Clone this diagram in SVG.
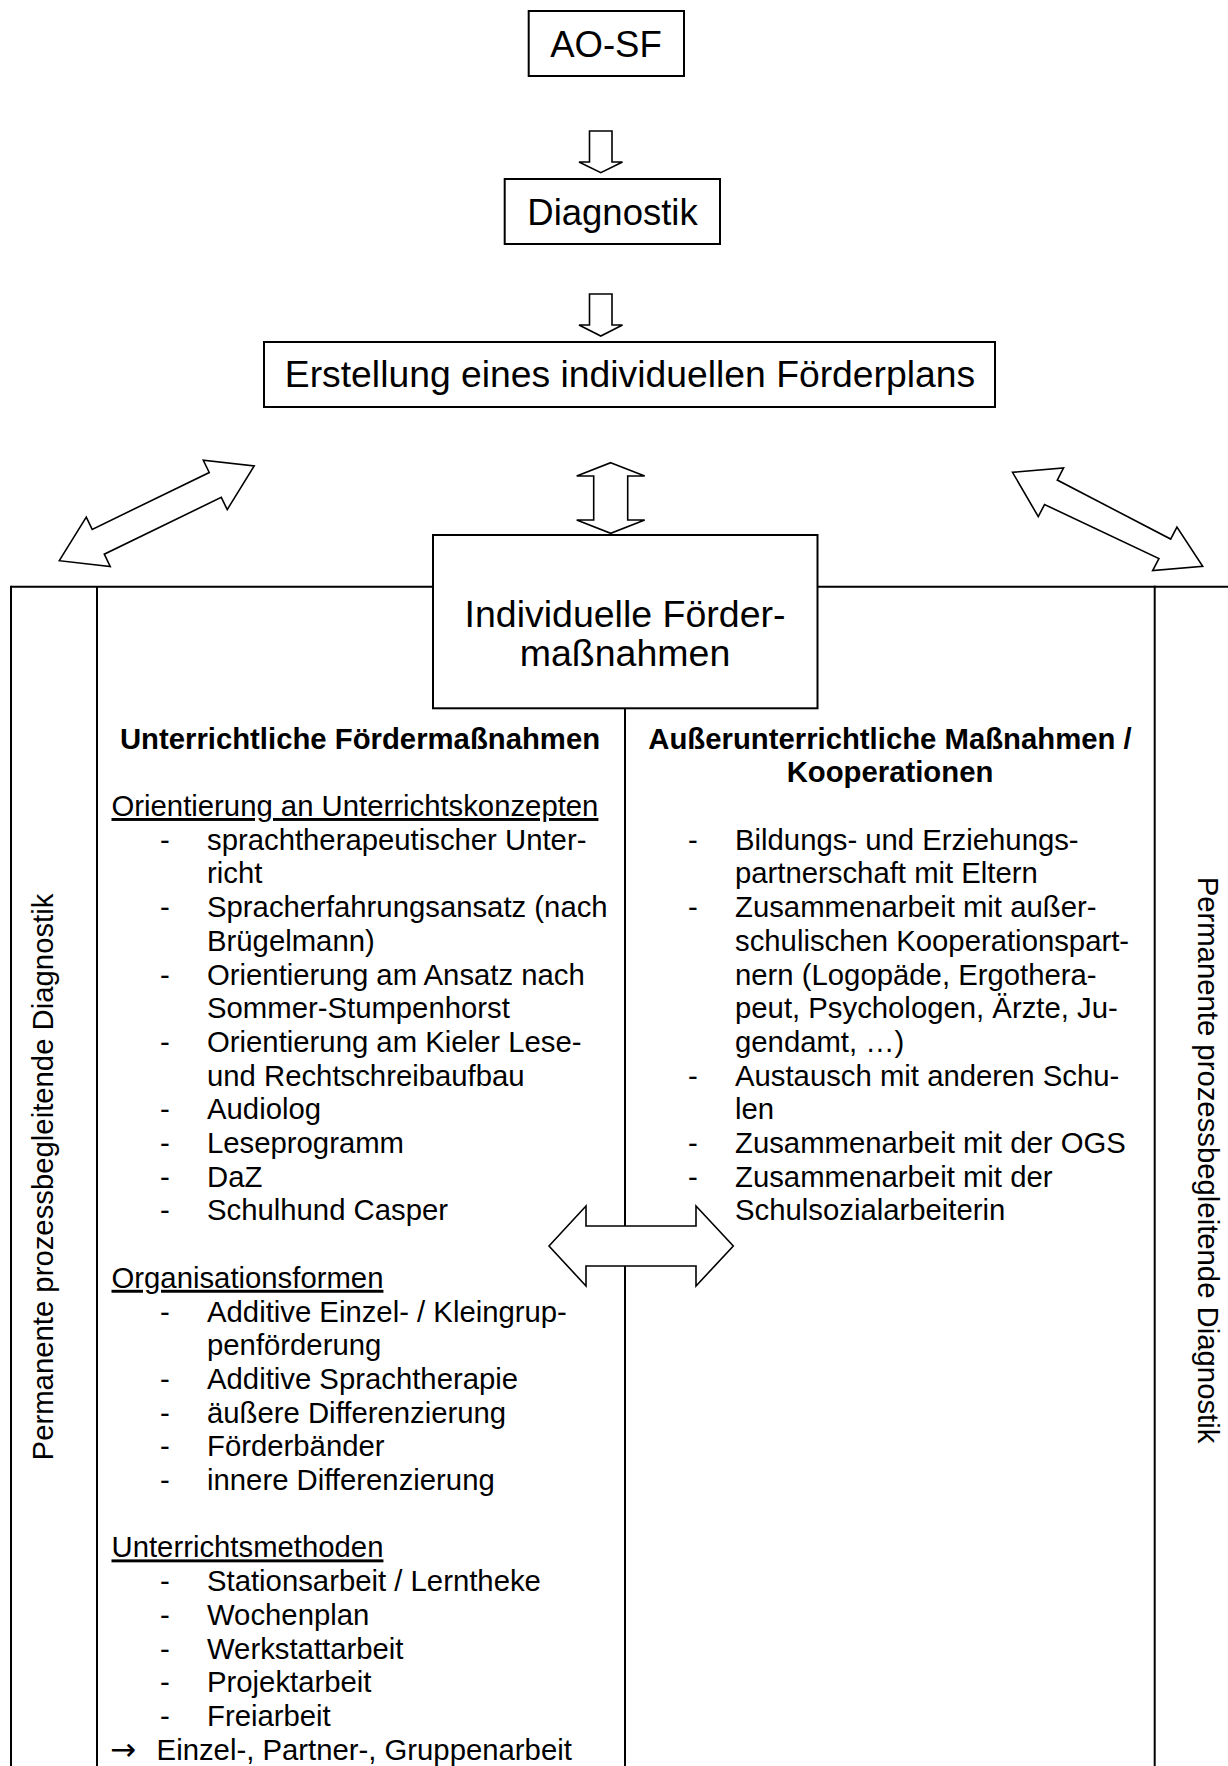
<svg xmlns="http://www.w3.org/2000/svg" width="1228" height="1766" viewBox="0 0 1228 1766">
<style>
text{font-family:"Liberation Sans",Arial,sans-serif;fill:#000}
.t{font-size:29.3px}
.b{font-weight:bold}
.u{text-decoration:underline}
.arr{font-family:"DejaVu Sans",sans-serif;font-size:31px}
.box{fill:#fff;stroke:#000;stroke-width:2}
.ln{stroke:#000;stroke-width:2;fill:none}
.ar{fill:#fff;stroke:#000;stroke-width:1.6;stroke-linejoin:miter}
</style>
<rect width="1228" height="1766" fill="#fff"/>

<g id="frame">
<line class="ln" x1="11" y1="586.7" x2="433" y2="586.7"/>
<line class="ln" x1="817.5" y1="586.7" x2="1228" y2="586.7"/>
<line class="ln" x1="11" y1="585.7" x2="11" y2="1766"/>
<line class="ln" x1="97" y1="586.7" x2="97" y2="1766"/>
<line class="ln" x1="1154.7" y1="585.7" x2="1154.7" y2="1766"/>
<line class="ln" x1="625" y1="708" x2="625" y2="1766"/>
</g>

<g id="connectors">
<polygon class="ar" points="589.5,131 612,131 612,162 622.5,162 600.8,172.7 579,162 589.5,162"/>
<polygon class="ar" points="589.5,294 612,294 612,325 622.5,325 600.8,336 579,325 589.5,325"/>
<polygon class="ar" points="610.7,462.7 644.7,476 627.7,476 627.7,520 644.7,520 610.7,533.3 576.7,520 593.7,520 593.7,476 576.7,476"/>
<polygon class="ar" points="59.3,560.7 86.27,517.14 92.21,529.37 209.23,472.51 203.29,460.28 254.2,466 227.23,509.56 221.29,497.33 104.27,554.19 110.21,566.42"/>
<polygon class="ar" points="1012.5,472.3 1063.56,467.98 1057.28,480.04 1170.66,539.08 1176.94,527.02 1202.7,566.3 1152.64,570.62 1158.92,558.56 1044.54,504.52 1038.26,516.58"/>
<polygon class="ar" points="549,1246 586,1206 586,1226 696,1226 696,1206 733.3,1246 696,1286 696,1266 586,1266 586,1286"/>
</g>

<g id="n-aosf">
<rect class="box" x="528.7" y="11" width="155.3" height="65"/>
<text x="606" y="57.3" font-size="36.5" text-anchor="middle">AO-SF</text>
</g>

<g id="n-diagnostik">
<rect class="box" x="504.7" y="179" width="215.3" height="65"/>
<text x="612.5" y="225" font-size="36.5" text-anchor="middle">Diagnostik</text>
</g>

<g id="n-foerderplan">
<rect class="box" x="264" y="342" width="731" height="65"/>
<text x="630" y="387" font-size="37.3" text-anchor="middle">Erstellung eines individuellen Förderplans</text>
</g>

<g id="n-massnahmen">
<rect class="box" x="433" y="535" width="384.5" height="173.3"/>
<text font-size="37.5" text-anchor="middle"><tspan x="625" y="626.5">Individuelle Förder-</tspan><tspan x="625" y="665.5">maßnahmen</tspan></text>
</g>

<g id="n-diagnostik-links">
<text class="t" transform="translate(53,1177) rotate(-90)" text-anchor="middle">Permanente prozessbegleitende Diagnostik</text>
</g>

<g id="n-diagnostik-rechts">
<text class="t" transform="translate(1198,1160) rotate(90)" text-anchor="middle">Permanente prozessbegleitende Diagnostik</text>
</g>

<g id="n-unterrichtlich">
<text class="t b" x="360" y="748.5" text-anchor="middle">Unterrichtliche Fördermaßnahmen</text>
<text class="t u" x="111.5" y="816">Orientierung an Unterrichtskonzepten</text>
<text class="t" y="849.7"><tspan x="160">-</tspan><tspan x="207">sprachtherapeutischer Unter-</tspan></text>
<text class="t" x="207" y="883.4">richt</text>
<text class="t" y="917.1"><tspan x="160">-</tspan><tspan x="207">Spracherfahrungsansatz (nach</tspan></text>
<text class="t" x="207" y="950.8">Brügelmann)</text>
<text class="t" y="984.5"><tspan x="160">-</tspan><tspan x="207">Orientierung am Ansatz nach</tspan></text>
<text class="t" x="207" y="1018.2">Sommer-Stumpenhorst</text>
<text class="t" y="1051.9"><tspan x="160">-</tspan><tspan x="207">Orientierung am Kieler Lese-</tspan></text>
<text class="t" x="207" y="1085.6">und Rechtschreibaufbau</text>
<text class="t" y="1119.3"><tspan x="160">-</tspan><tspan x="207">Audiolog</tspan></text>
<text class="t" y="1153"><tspan x="160">-</tspan><tspan x="207">Leseprogramm</tspan></text>
<text class="t" y="1186.7"><tspan x="160">-</tspan><tspan x="207">DaZ</tspan></text>
<text class="t" y="1220.4"><tspan x="160">-</tspan><tspan x="207">Schulhund Casper</tspan></text>
<text class="t u" x="111.5" y="1287.8">Organisationsformen</text>
<text class="t" y="1321.5"><tspan x="160">-</tspan><tspan x="207">Additive Einzel- / Kleingrup-</tspan></text>
<text class="t" x="207" y="1355.2">penförderung</text>
<text class="t" y="1388.9"><tspan x="160">-</tspan><tspan x="207">Additive Sprachtherapie</tspan></text>
<text class="t" y="1422.6"><tspan x="160">-</tspan><tspan x="207">äußere Differenzierung</tspan></text>
<text class="t" y="1456.3"><tspan x="160">-</tspan><tspan x="207">Förderbänder</tspan></text>
<text class="t" y="1490"><tspan x="160">-</tspan><tspan x="207">innere Differenzierung</tspan></text>
<text class="t u" x="111.5" y="1557.4">Unterrichtsmethoden</text>
<text class="t" y="1591.1"><tspan x="160">-</tspan><tspan x="207">Stationsarbeit / Lerntheke</tspan></text>
<text class="t" y="1624.8"><tspan x="160">-</tspan><tspan x="207">Wochenplan</tspan></text>
<text class="t" y="1658.5"><tspan x="160">-</tspan><tspan x="207">Werkstattarbeit</tspan></text>
<text class="t" y="1692.2"><tspan x="160">-</tspan><tspan x="207">Projektarbeit</tspan></text>
<text class="t" y="1725.9"><tspan x="160">-</tspan><tspan x="207">Freiarbeit</tspan></text>
<text class="t" y="1759.6"><tspan class="arr" x="110">→</tspan><tspan x="156.6">Einzel-, Partner-, Gruppenarbeit</tspan></text>
</g>

<g id="n-ausserunterrichtlich">
<text class="t b" x="890" y="748.5" text-anchor="middle">Außerunterrichtliche Maßnahmen /</text>
<text class="t b" x="890" y="782.2" text-anchor="middle">Kooperationen</text>
<text class="t" y="849.7"><tspan x="688">-</tspan><tspan x="735">Bildungs- und Erziehungs-</tspan></text>
<text class="t" x="735" y="883.4">partnerschaft mit Eltern</text>
<text class="t" y="917.1"><tspan x="688">-</tspan><tspan x="735">Zusammenarbeit mit außer-</tspan></text>
<text class="t" x="735" y="950.8">schulischen Kooperationspart-</text>
<text class="t" x="735" y="984.5">nern (Logopäde, Ergothera-</text>
<text class="t" x="735" y="1018.2">peut, Psychologen, Ärzte, Ju-</text>
<text class="t" x="735" y="1051.9">gendamt, …)</text>
<text class="t" y="1085.6"><tspan x="688">-</tspan><tspan x="735">Austausch mit anderen Schu-</tspan></text>
<text class="t" x="735" y="1119.3">len</text>
<text class="t" y="1153"><tspan x="688">-</tspan><tspan x="735">Zusammenarbeit mit der OGS</tspan></text>
<text class="t" y="1186.7"><tspan x="688">-</tspan><tspan x="735">Zusammenarbeit mit der</tspan></text>
<text class="t" x="735" y="1220.4">Schulsozialarbeiterin</text>
</g>
</svg>
